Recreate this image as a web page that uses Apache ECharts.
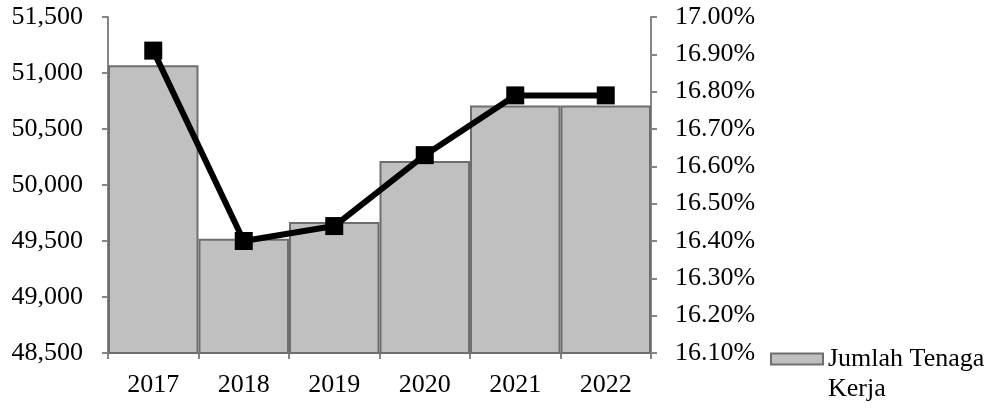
<!DOCTYPE html>
<html>
<head>
<meta charset="utf-8">
<script src="https://cdn.jsdelivr.net/npm/echarts@6/dist/echarts.min.js"></script>
<style>html,body{margin:0;padding:0;background:#fff;}#c{width:1003px;height:409px;}</style>
</head>
<body>
<div id="c"></div>
<script>
const categories = ['2017','2018','2019','2020','2021','2022'];
const tenagaKerja = [51070, 49520, 49670, 50215, 50710, 50710];
const persentase = [16.91, 16.40, 16.44, 16.63, 16.79, 16.79];
const leftTicks = {min: 48500, max: 51500, interval: 500};
const rightTicks = {min: 16.10, max: 17.00, interval: 0.10};

const FONT = 'Liberation Serif';
const chart = echarts.init(document.getElementById('c'));
const axisGray = '#868686';
chart.setOption({
  animation: false,
  textStyle: {fontFamily: FONT},
  grid: {left: 108, right: 352, top: 17, bottom: 56},
  legend: {
    data: [{name: 'Jumlah Tenaga Kerja', icon: 'rect'}],
    left: 770, top: 314, padding: 0,
    itemWidth: 52, itemHeight: 11,
    formatter: () => ' \nJumlah Tenaga\nKerja',
    textStyle: {fontFamily: FONT, fontSize: 26, color: '#000', lineHeight: 30},
    itemStyle: {borderColor: '#6e6e6e', borderWidth: 2}
  },
  xAxis: {
    type: 'category', data: categories,
    axisLine: {lineStyle: {color: axisGray, width: 2}},
    axisTick: {show: true, length: 6, lineStyle: {color: axisGray, width: 2}},
    axisLabel: {color: '#000', fontSize: 26, fontFamily: FONT, margin: 19}
  },
  yAxis: [{
    type: 'value', min: leftTicks.min, max: leftTicks.max, interval: leftTicks.interval,
    axisLine: {show: true, lineStyle: {color: axisGray, width: 2}},
    axisTick: {show: true, length: 6, lineStyle: {color: axisGray, width: 2}},
    splitLine: {show: false},
    axisLabel: {color: '#000', fontSize: 26, fontFamily: FONT, margin: 25,
      formatter: v => v.toLocaleString('en-US')}
  }, {
    type: 'value', position: 'right',
    min: Math.round(rightTicks.min * 100), max: Math.round(rightTicks.max * 100), interval: Math.round(rightTicks.interval * 100),
    axisLine: {show: true, lineStyle: {color: axisGray, width: 2}},
    axisTick: {show: true, length: 6, lineStyle: {color: axisGray, width: 2}},
    splitLine: {show: false},
    axisLabel: {color: '#000', fontSize: 26, fontFamily: FONT, margin: 24,
      formatter: v => (v / 100).toFixed(2) + '%'}
  }],
  series: [{
    name: 'Jumlah Tenaga Kerja', type: 'bar', data: tenagaKerja,
    barCategoryGap: 0,
    itemStyle: {color: '#c0c0c0', borderColor: '#6e6e6e', borderWidth: 2}
  }, {
    name: 'Persentase', type: 'line', yAxisIndex: 1,
    data: persentase.map(v => Math.round(v * 100)),
    lineStyle: {color: '#000', width: 6},
    itemStyle: {color: '#000'},
    symbol: 'rect', symbolSize: 18, z: 5
  }]
});
</script>
</body>
</html>
